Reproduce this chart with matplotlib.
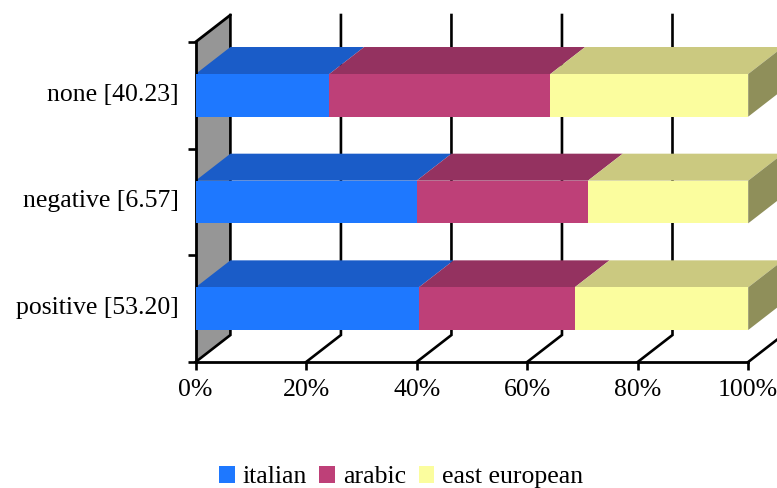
import matplotlib
matplotlib.use('Agg')
import matplotlib.pyplot as plt
from matplotlib.patches import Polygon, Patch

plt.rcParams['font.family'] = ['Liberation Serif', 'DejaVu Serif']

# Stacked shares in percent, bottom row first
categories = ['positive [53.20]', 'negative [6.57]', 'none [40.23]']
italian = [40.4, 40.0, 24.2]
arabic = [28.2, 31.0, 40.0]
east_european = [31.4, 29.0, 35.8]
series_names = ['italian', 'arabic', 'east european']
x_ticks = [0, 20, 40, 60, 80, 100]

# front, top and side shades for each series
front_colors = ['#1E78FF', '#BE4078', '#FBFD9E']
top_colors = ['#1A5CC8', '#943260', '#CBC980']
side_colors = ['#14469A', '#72264A', '#8F8F5A']

# oblique depth offset in data units
depth_x = 6.3
depth_y = 0.253
bar_h = 0.4
line_w = 1.9

fig = plt.figure(figsize=(7.77, 4.88), dpi=100)
ax = fig.add_axes([195.6 / 777, 1 - 362 / 488, 552.6 / 777, 320 / 488])
ax.set_xlim(0, 100)
ax.set_ylim(0, 3)

# grey side wall
ax.add_patch(Polygon([(0, 0), (depth_x, depth_y), (depth_x, 3 + depth_y), (0, 3)],
                     closed=True, fc='#969696', ec='none', clip_on=False, zorder=1))
ax.plot([0, depth_x], [3, 3 + depth_y], color='black', lw=line_w + 0.1, clip_on=False, zorder=2,
        solid_capstyle='round')

# gridlines: floor diagonal then the upright on the back plane
for t in x_ticks:
    ax.plot([t, t + depth_x, t + depth_x], [0, depth_y, 3 + depth_y], color='black',
            lw=line_w, clip_on=False, zorder=2, solid_joinstyle='miter')

# stacked 3d bars
for i, cat in enumerate(categories):
    y0 = i + 0.5 - bar_h / 2
    y1 = i + 0.5 + bar_h / 2
    left = 0
    for j, vals in enumerate([italian, arabic, east_european]):
        right = left + vals[i]
        ax.add_patch(Polygon([(left, y1), (right, y1), (right + depth_x, y1 + depth_y),
                              (left + depth_x, y1 + depth_y)], closed=True,
                             fc=top_colors[j], ec='none', clip_on=False, zorder=3 + j))
        ax.barh(i + 0.5, vals[i], left=left, height=bar_h, color=front_colors[j], zorder=6)
        left = right
    ax.add_patch(Polygon([(100, y0), (100 + depth_x, y0 + depth_y), (100 + depth_x, y1 + depth_y),
                          (100, y1)], closed=True, fc=side_colors[2], ec='none',
                         clip_on=False, zorder=6))

for s in ['top', 'right']:
    ax.spines[s].set_visible(False)
for s in ['left', 'bottom']:
    ax.spines[s].set_linewidth(line_w + 0.1)
    ax.spines[s].set_zorder(5)

ax.set_xticks(x_ticks)
ax.set_xticklabels([f'{t}%' for t in x_ticks])
ax.set_yticks([0, 1, 2, 3])
ax.set_yticklabels([])
# labels sit slightly above the bar centres
ax.set_yticks([0.53, 1.53, 2.53], minor=True)
ax.set_yticklabels(categories, minor=True)
ax.tick_params(axis='x', length=5.5, width=line_w, labelsize=18.5, pad=7, colors='black')
ax.tick_params(axis='y', which='major', length=5.5, width=line_w)
ax.tick_params(axis='y', which='minor', length=0, labelsize=18.5, pad=12)

handles = [Patch(fc=c, ec='none', label=n) for c, n in zip(front_colors, series_names)]
fig.legend(handles=handles, loc='lower left', bbox_to_anchor=(216.5 / 777, -0.006), ncol=3,
           frameon=False, fontsize=18.5, handlelength=0.62, handleheight=0.62,
           handletextpad=0.3, columnspacing=0.48, borderpad=0.1, borderaxespad=0)

fig.savefig('out.png', dpi=100)
